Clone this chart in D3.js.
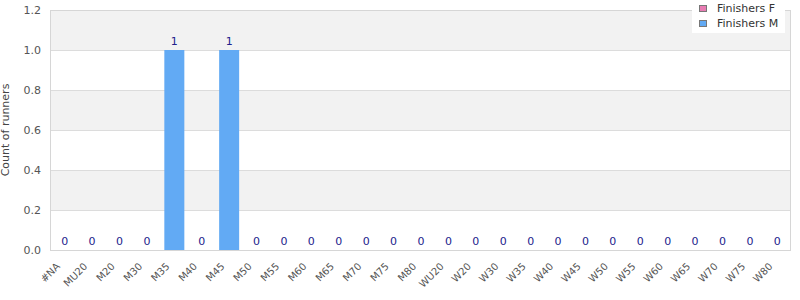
<!DOCTYPE html>
<html>
<head>
<meta charset="utf-8">
<script src="https://cdn.jsdelivr.net/npm/d3@7"></script>
<style>
  body { margin: 0; background: #fff; }
  svg { display: block; font-family: "DejaVu Sans", sans-serif; }
</style>
</head>
<body>
<script>
// Data
let categories = ["#NA", "MU20", "M20", "M30", "M35", "M40", "M45", "M50", "M55", "M60", "M65", "M70", "M75", "M80",
  "WU20", "W20", "W30", "W35", "W40", "W45", "W50", "W55", "W60", "W65", "W70", "W75", "W80"];
let finishersM = [0, 0, 0, 0, 1, 0, 1, 0, 0, 0, 0, 0, 0, 0, 0, 0, 0, 0, 0, 0, 0, 0, 0, 0, 0, 0, 0];
let finishersF = [0, 0, 0, 0, 0, 0, 0, 0, 0, 0, 0, 0, 0, 0, 0, 0, 0, 0, 0, 0, 0, 0, 0, 0, 0, 0, 0];
let yTicks = [0, 0.2, 0.4, 0.6, 0.8, 1.0, 1.2];
let seriesNames = ["Finishers F", "Finishers M"];
let seriesColors = ["#e87cb3", "#62aaf4"];

let w = 800;
let h = 300;
let plotLeft = 50, plotRight = 790, plotTop = 10, plotBottom = 250;

let svg = d3.select("body").append("svg").attr("width", w).attr("height", h);

let xScale = d3.scaleBand().domain(categories).range([plotLeft + 1, plotRight + 1])
  .paddingInner(0.27).paddingOuter(0.135);
let yScale = d3.scaleLinear().domain([0, 1.2]).range([plotBottom, plotTop]);

// alternating bands
let bands = d3.pairs(yTicks);
svg.selectAll("rect.band")
  .data(bands)
  .enter()
  .append("rect")
  .attr("class", "band")
  .attr("x", plotLeft)
  .attr("width", plotRight - plotLeft)
  .attr("y", (d) => yScale(d[1]))
  .attr("height", (d) => yScale(d[0]) - yScale(d[1]))
  .attr("fill", (d, i) => (i % 2 === 0 ? "#ffffff" : "#f2f2f2"));

// grid lines
svg.selectAll("line.grid")
  .data(yTicks)
  .enter()
  .append("line")
  .attr("x1", plotLeft)
  .attr("x2", plotRight)
  .attr("y1", (d) => Math.round(yScale(d)) + 0.5)
  .attr("y2", (d) => Math.round(yScale(d)) + 0.5)
  .attr("stroke", "#dcdcdc");

// frame
svg.append("rect")
  .attr("x", plotLeft + 0.5)
  .attr("y", plotTop + 0.5)
  .attr("width", plotRight - plotLeft)
  .attr("height", plotBottom - plotTop)
  .attr("fill", "none")
  .attr("stroke", "#d6d6d6");

// bars
let rows = categories.map((c, i) => ({ cat: c, m: finishersM[i], f: finishersF[i] }));
svg.selectAll("rect.bar")
  .data(rows)
  .enter()
  .append("rect")
  .attr("class", "bar")
  .attr("x", (d) => xScale(d.cat))
  .attr("width", xScale.bandwidth())
  .attr("y", (d) => yScale(d.m))
  .attr("height", (d) => plotBottom - yScale(d.m))
  .attr("fill", seriesColors[1]);

// value labels
svg.selectAll("text.val")
  .data(rows)
  .enter()
  .append("text")
  .attr("class", "val")
  .text((d) => d.m)
  .attr("text-anchor", "middle")
  .attr("x", (d) => xScale(d.cat) + xScale.bandwidth() / 2)
  .attr("y", (d) => (d.m > 0 ? yScale(d.m) - 5 : plotBottom - 5))
  .attr("font-size", "11px")
  .attr("fill", "#22228c");

// y axis
let yAxis = d3.axisLeft(yScale).tickValues(yTicks).tickFormat(d3.format(".1f")).tickSize(0).tickPadding(9);
let gy = svg.append("g").attr("transform", "translate(" + plotLeft + ",0)").call(yAxis);
gy.select(".domain").remove();
gy.selectAll("text").attr("font-size", "11px").attr("fill", "#555").attr("font-family", "DejaVu Sans, sans-serif");

// x axis
let xAxis = d3.axisBottom(xScale).tickSize(0).tickPadding(0);
let gx = svg.append("g").attr("transform", "translate(0," + plotBottom + ")").call(xAxis);
gx.select(".domain").remove();
gx.selectAll("text")
  .attr("font-size", "10px")
  .attr("fill", "#555")
  .attr("font-family", "DejaVu Sans, sans-serif")
  .attr("text-anchor", "end")
  .attr("dy", null)
  .attr("y", 0)
  .attr("transform", "translate(-4,17) rotate(-45)");

// y title
svg.append("text")
  .text("Count of runners")
  .attr("transform", "translate(9," + (plotTop + plotBottom) / 2 + ") rotate(-90)")
  .attr("text-anchor", "middle")
  .attr("font-size", "11px")
  .attr("fill", "#444");

// legend
let legend = svg.append("g");
legend.append("rect")
  .attr("x", 692)
  .attr("y", 0)
  .attr("width", 93)
  .attr("height", 33)
  .attr("fill", "#fff");
let items = legend.selectAll("g.item")
  .data(seriesNames)
  .enter()
  .append("g")
  .attr("transform", (d, i) => "translate(0," + i * 15 + ")");
items.append("rect")
  .attr("x", 699.5)
  .attr("y", 5.5)
  .attr("width", 7)
  .attr("height", 6)
  .attr("fill", (d, i) => seriesColors[i])
  .attr("stroke", "#777");
items.append("text")
  .text((d) => d)
  .attr("x", 717)
  .attr("y", 12)
  .attr("font-size", "11px")
  .attr("fill", "#333");
</script>
</body>
</html>
